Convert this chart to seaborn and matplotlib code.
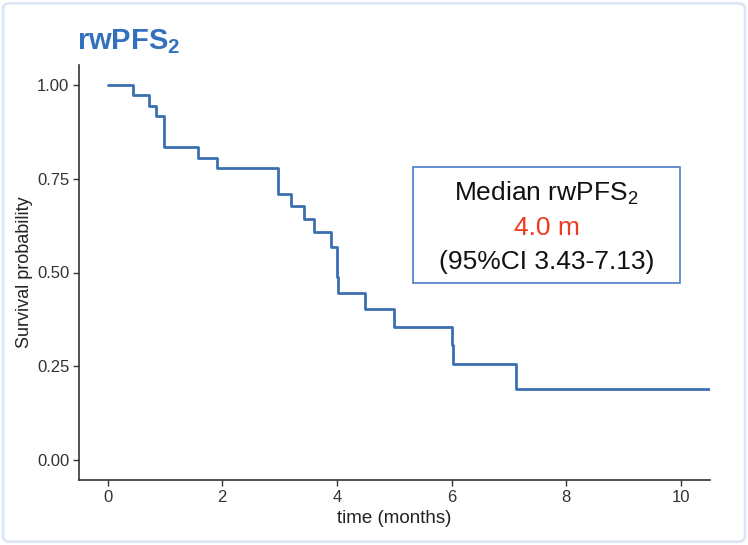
import matplotlib
matplotlib.use("Agg")
import matplotlib.pyplot as plt
from matplotlib.patches import FancyBboxPatch
import seaborn as sns
import pandas as pd

# Kaplan-Meier steps
time_months = [0.0, 0.44, 0.72, 0.85, 0.98, 1.58, 1.91, 2.98, 3.19, 3.42, 3.60,
               3.89, 4.0, 4.02, 4.49, 5.0, 6.0, 6.02, 7.13, 10.5]
survival = [1.0, 0.972, 0.944, 0.917, 0.833, 0.806, 0.778, 0.71, 0.677, 0.643, 0.609,
            0.567, 0.487, 0.445, 0.403, 0.356, 0.307, 0.256, 0.191, 0.191]
x_ticks = [0, 2, 4, 6, 8, 10]
y_ticks = [0.0, 0.25, 0.5, 0.75, 1.0]

df = pd.DataFrame({"time": time_months, "surv": survival})

sns.set_style("white")
plt.rcParams["font.family"] = ["Liberation Sans", "DejaVu Sans"]
plt.rcParams["mathtext.fontset"] = "custom"
plt.rcParams["mathtext.rm"] = "Liberation Sans"
plt.rcParams["mathtext.it"] = "Liberation Sans"
plt.rcParams["mathtext.bf"] = "Liberation Sans:bold"

fig = plt.figure(figsize=(7.48, 5.45), dpi=100)
ax = fig.add_axes([0.1056, 0.119, 0.843, 0.762])

sns.lineplot(data=df, x="time", y="surv", ax=ax, drawstyle="steps-post",
             color="#3b6fb0", linewidth=2)

ax.set_xlim(-0.5, 10.5)
ax.set_ylim(-0.053, 1.053)
ax.set_xticks(x_ticks)
ax.set_yticks(y_ticks)
ax.set_yticklabels(["%.2f" % v for v in y_ticks])
ax.set_xlabel("time (months)", fontsize=13.5, color="#222222", labelpad=4)
ax.set_ylabel("Survival probability", fontsize=13, color="#222222", labelpad=3)
ax.tick_params(axis="both", labelsize=12, colors="#333333", length=4, width=1,
               direction="out", bottom=True, left=True, pad=3)
for s in ["top", "right"]:
    ax.spines[s].set_visible(False)
for s in ["left", "bottom"]:
    ax.spines[s].set_color("#333333")
    ax.spines[s].set_linewidth(1.2)

# title
fig.text(0.103, 1 - 42 / 545, r"rwPFS$_\mathbf{2}$", fontsize=21, fontweight="bold",
         color="#3471bd", ha="left", va="center")

# median annotation box
box_l, box_b, box_w, box_h = 413 / 748, 1 - 283 / 545, 267 / 748, 116 / 545
fig.patches.append(plt.Rectangle((box_l, box_b), box_w, box_h, transform=fig.transFigure,
                                 fill=False, edgecolor="#4a7cc4", linewidth=1.2))
cx = box_l + box_w / 2
fig.text(cx, 1 - 193 / 545, r"Median rwPFS$_2$", fontsize=19, ha="center", va="center", color="#111111")
fig.text(cx, 1 - 228 / 545, "4.0 m", fontsize=19, ha="center", va="center", color="#f03a1e")
fig.text(cx, 1 - 262 / 545, "(95%CI 3.43-7.13)", fontsize=19, ha="center", va="center", color="#111111")

# light outer frame
fig.patches.append(FancyBboxPatch((0.004, 0.006), 0.992, 0.988, boxstyle="round,pad=0,rounding_size=0.01",
                                  transform=fig.transFigure, fill=False,
                                  edgecolor="#dde6f4", linewidth=2))

fig.savefig("out.png", dpi=100)
